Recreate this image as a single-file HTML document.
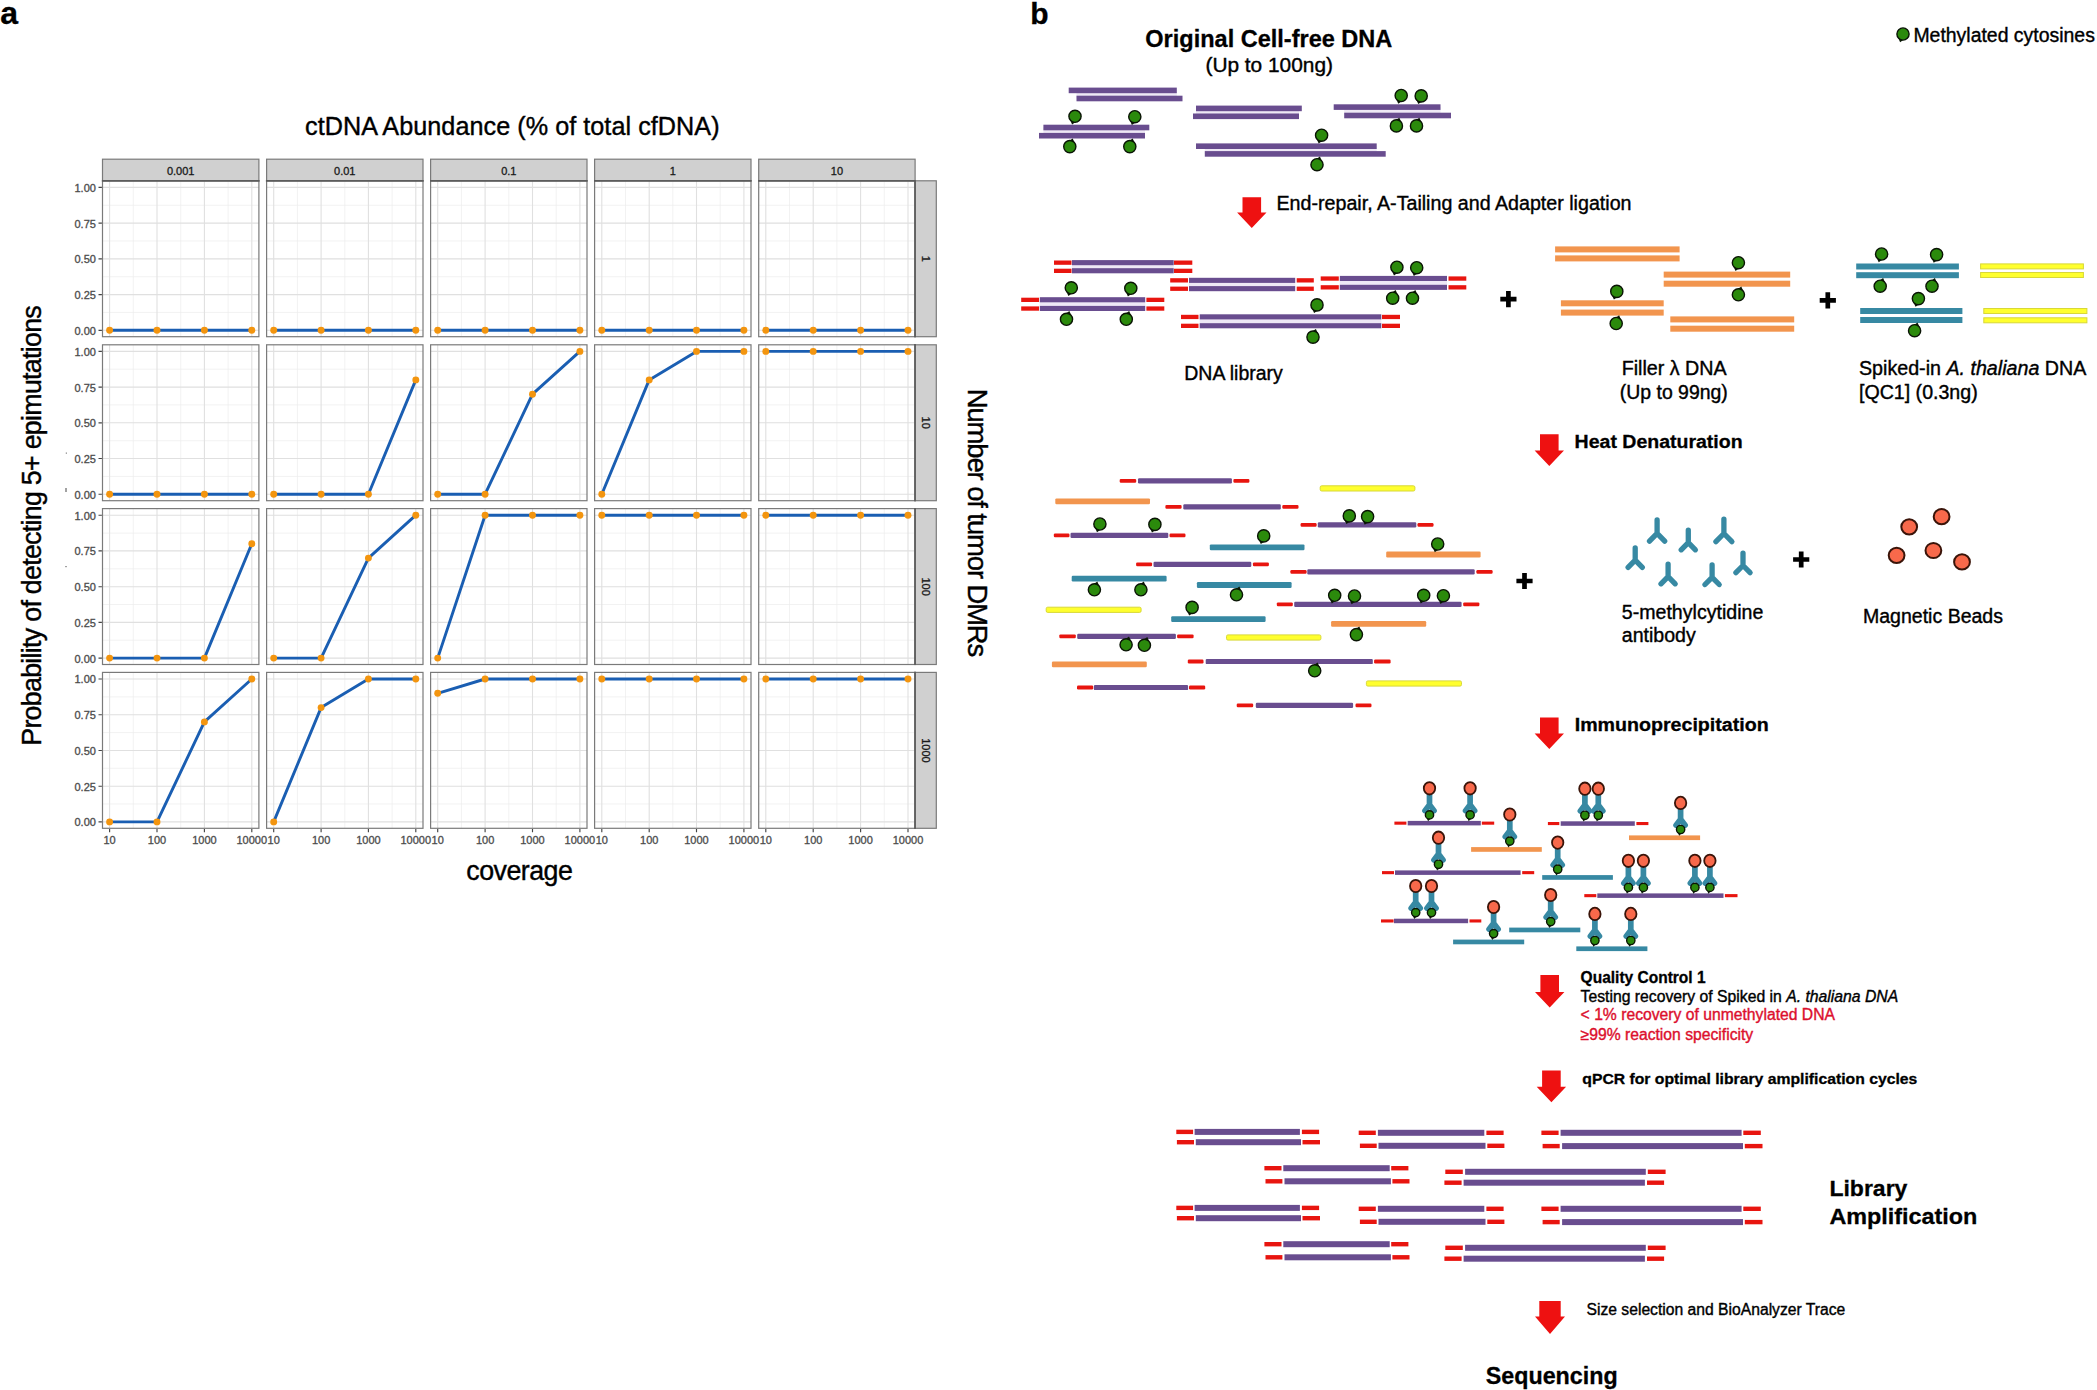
<!DOCTYPE html>
<html lang="en"><head><meta charset="utf-8"><title>cfMeDIP-seq figure</title>
<style>html,body{margin:0;padding:0;background:#fff}svg{display:block}text{font-family:'Liberation Sans', sans-serif}</style>
</head><body>
<svg width="2097" height="1390" viewBox="0 0 2097 1390">
<rect width="2097" height="1390" fill="#fff"/>
<defs>
<g id="mU"><path d="M-5 3.5L-2.9 8.2L0.6 5.8Z" fill="#0a1a05"/><circle r="6.1" fill="#2b8a0c" stroke="#0a1405" stroke-width="1.4"/></g>
<g id="mD"><path d="M5 -3.5L2.9 -8.2L-0.6 -5.8Z" fill="#0a1a05"/><circle r="6.1" fill="#2b8a0c" stroke="#0a1405" stroke-width="1.4"/></g>
<g id="ab"><path d="M0 -28.5V-18.6M-4.5 -12.6L0 -18.6L4.5 -12.6" stroke="#3789a3" stroke-width="5.7" stroke-linecap="round" stroke-linejoin="round" fill="none"/><path d="M-3 -5.5L-1.4 -2L1 -4.6Z" fill="#0a1a05"/><circle cy="-8.3" r="4.15" fill="#2b8a0c" stroke="#0a1405" stroke-width="1.4"/><ellipse cy="-34.9" rx="5.7" ry="6.2" fill="#f8694b" stroke="#3a1409" stroke-width="1.8"/></g>
</defs>
<g id="panelA">
<text x="0.2" y="24.3" font-size="32" font-weight="bold" stroke="#000" stroke-width="0.3">a</text>
<rect x="102.5" y="159.2" width="156.4" height="21.6" fill="#d0d0d0" stroke="#7a7a7a" stroke-width="1.2"/>
<text x="180.7" y="174.5" font-size="11" text-anchor="middle" fill="#1a1a1a" stroke="#1a1a1a" stroke-width="0.32">0.001</text>
<rect x="266.6" y="159.2" width="156.4" height="21.6" fill="#d0d0d0" stroke="#7a7a7a" stroke-width="1.2"/>
<text x="344.8" y="174.5" font-size="11" text-anchor="middle" fill="#1a1a1a" stroke="#1a1a1a" stroke-width="0.32">0.01</text>
<rect x="430.6" y="159.2" width="156.4" height="21.6" fill="#d0d0d0" stroke="#7a7a7a" stroke-width="1.2"/>
<text x="508.8" y="174.5" font-size="11" text-anchor="middle" fill="#1a1a1a" stroke="#1a1a1a" stroke-width="0.32">0.1</text>
<rect x="594.6" y="159.2" width="156.4" height="21.6" fill="#d0d0d0" stroke="#7a7a7a" stroke-width="1.2"/>
<text x="672.9" y="174.5" font-size="11" text-anchor="middle" fill="#1a1a1a" stroke="#1a1a1a" stroke-width="0.32">1</text>
<rect x="758.7" y="159.2" width="156.4" height="21.6" fill="#d0d0d0" stroke="#7a7a7a" stroke-width="1.2"/>
<text x="836.9" y="174.5" font-size="11" text-anchor="middle" fill="#1a1a1a" stroke="#1a1a1a" stroke-width="0.32">10</text>
<rect x="915" y="180.8" width="21.3" height="155.9" fill="#d0d0d0" stroke="#7a7a7a" stroke-width="1.2"/>
<text font-size="11" fill="#1a1a1a" stroke="#1a1a1a" stroke-width="0.32" text-anchor="middle" transform="translate(922 258.8) rotate(90)">1</text>
<rect x="915" y="344.8" width="21.3" height="155.9" fill="#d0d0d0" stroke="#7a7a7a" stroke-width="1.2"/>
<text font-size="11" fill="#1a1a1a" stroke="#1a1a1a" stroke-width="0.32" text-anchor="middle" transform="translate(922 422.7) rotate(90)">10</text>
<rect x="915" y="508.6" width="21.3" height="155.9" fill="#d0d0d0" stroke="#7a7a7a" stroke-width="1.2"/>
<text font-size="11" fill="#1a1a1a" stroke="#1a1a1a" stroke-width="0.32" text-anchor="middle" transform="translate(922 586.6) rotate(90)">100</text>
<rect x="915" y="672.4" width="21.3" height="155.9" fill="#d0d0d0" stroke="#7a7a7a" stroke-width="1.2"/>
<text font-size="11" fill="#1a1a1a" stroke="#1a1a1a" stroke-width="0.32" text-anchor="middle" transform="translate(922 750.4) rotate(90)">1000</text>
<rect x="102.5" y="180.8" width="156.4" height="155.9" fill="#fff"/>
<path d="M133.3 180.8V336.7M180.7 180.8V336.7M228.1 180.8V336.7M102.5 312.4H258.9M102.5 276.7H258.9M102.5 241H258.9M102.5 205.3H258.9" stroke="#ededed" stroke-width="0.7" fill="none"/>
<path d="M109.6 180.8V336.7M157 180.8V336.7M204.4 180.8V336.7M251.8 180.8V336.7M102.5 330.3H258.9M102.5 294.6H258.9M102.5 258.9H258.9M102.5 223.1H258.9M102.5 187.4H258.9" stroke="#e0e0e0" stroke-width="1.1" fill="none"/>
<polyline points="109.6,330.3 157,330.3 204.4,330.3 251.8,330.3" fill="none" stroke="#1a5eb2" stroke-width="2.9" stroke-linejoin="round"/>
<circle cx="109.6" cy="330.3" r="3.45" fill="#f3950f"/>
<circle cx="157" cy="330.3" r="3.45" fill="#f3950f"/>
<circle cx="204.4" cy="330.3" r="3.45" fill="#f3950f"/>
<circle cx="251.8" cy="330.3" r="3.45" fill="#f3950f"/>
<rect x="102.5" y="180.8" width="156.4" height="155.9" fill="none" stroke="#7a7a7a" stroke-width="1.2"/>
<rect x="266.6" y="180.8" width="156.4" height="155.9" fill="#fff"/>
<path d="M297.4 180.8V336.7M344.8 180.8V336.7M392.1 180.8V336.7M266.6 312.4H423M266.6 276.7H423M266.6 241H423M266.6 205.3H423" stroke="#ededed" stroke-width="0.7" fill="none"/>
<path d="M273.7 180.8V336.7M321.1 180.8V336.7M368.4 180.8V336.7M415.8 180.8V336.7M266.6 330.3H423M266.6 294.6H423M266.6 258.9H423M266.6 223.1H423M266.6 187.4H423" stroke="#e0e0e0" stroke-width="1.1" fill="none"/>
<polyline points="273.7,330.3 321.1,330.3 368.4,330.3 415.8,330.3" fill="none" stroke="#1a5eb2" stroke-width="2.9" stroke-linejoin="round"/>
<circle cx="273.7" cy="330.3" r="3.45" fill="#f3950f"/>
<circle cx="321.1" cy="330.3" r="3.45" fill="#f3950f"/>
<circle cx="368.4" cy="330.3" r="3.45" fill="#f3950f"/>
<circle cx="415.8" cy="330.3" r="3.45" fill="#f3950f"/>
<rect x="266.6" y="180.8" width="156.4" height="155.9" fill="none" stroke="#7a7a7a" stroke-width="1.2"/>
<rect x="430.6" y="180.8" width="156.4" height="155.9" fill="#fff"/>
<path d="M461.4 180.8V336.7M508.8 180.8V336.7M556.2 180.8V336.7M430.6 312.4H587M430.6 276.7H587M430.6 241H587M430.6 205.3H587" stroke="#ededed" stroke-width="0.7" fill="none"/>
<path d="M437.7 180.8V336.7M485.1 180.8V336.7M532.5 180.8V336.7M579.9 180.8V336.7M430.6 330.3H587M430.6 294.6H587M430.6 258.9H587M430.6 223.1H587M430.6 187.4H587" stroke="#e0e0e0" stroke-width="1.1" fill="none"/>
<polyline points="437.7,330.3 485.1,330.3 532.5,330.3 579.9,330.3" fill="none" stroke="#1a5eb2" stroke-width="2.9" stroke-linejoin="round"/>
<circle cx="437.7" cy="330.3" r="3.45" fill="#f3950f"/>
<circle cx="485.1" cy="330.3" r="3.45" fill="#f3950f"/>
<circle cx="532.5" cy="330.3" r="3.45" fill="#f3950f"/>
<circle cx="579.9" cy="330.3" r="3.45" fill="#f3950f"/>
<rect x="430.6" y="180.8" width="156.4" height="155.9" fill="none" stroke="#7a7a7a" stroke-width="1.2"/>
<rect x="594.6" y="180.8" width="156.4" height="155.9" fill="#fff"/>
<path d="M625.5 180.8V336.7M672.8 180.8V336.7M720.2 180.8V336.7M594.6 312.4H751M594.6 276.7H751M594.6 241H751M594.6 205.3H751" stroke="#ededed" stroke-width="0.7" fill="none"/>
<path d="M601.8 180.8V336.7M649.2 180.8V336.7M696.5 180.8V336.7M743.9 180.8V336.7M594.6 330.3H751M594.6 294.6H751M594.6 258.9H751M594.6 223.1H751M594.6 187.4H751" stroke="#e0e0e0" stroke-width="1.1" fill="none"/>
<polyline points="601.8,330.3 649.2,330.3 696.5,330.3 743.9,330.3" fill="none" stroke="#1a5eb2" stroke-width="2.9" stroke-linejoin="round"/>
<circle cx="601.8" cy="330.3" r="3.45" fill="#f3950f"/>
<circle cx="649.2" cy="330.3" r="3.45" fill="#f3950f"/>
<circle cx="696.5" cy="330.3" r="3.45" fill="#f3950f"/>
<circle cx="743.9" cy="330.3" r="3.45" fill="#f3950f"/>
<rect x="594.6" y="180.8" width="156.4" height="155.9" fill="none" stroke="#7a7a7a" stroke-width="1.2"/>
<rect x="758.7" y="180.8" width="156.4" height="155.9" fill="#fff"/>
<path d="M789.5 180.8V336.7M836.9 180.8V336.7M884.3 180.8V336.7M758.7 312.4H915.1M758.7 276.7H915.1M758.7 241H915.1M758.7 205.3H915.1" stroke="#ededed" stroke-width="0.7" fill="none"/>
<path d="M765.8 180.8V336.7M813.2 180.8V336.7M860.6 180.8V336.7M908 180.8V336.7M758.7 330.3H915.1M758.7 294.6H915.1M758.7 258.9H915.1M758.7 223.1H915.1M758.7 187.4H915.1" stroke="#e0e0e0" stroke-width="1.1" fill="none"/>
<polyline points="765.8,330.3 813.2,330.3 860.6,330.3 908,330.3" fill="none" stroke="#1a5eb2" stroke-width="2.9" stroke-linejoin="round"/>
<circle cx="765.8" cy="330.3" r="3.45" fill="#f3950f"/>
<circle cx="813.2" cy="330.3" r="3.45" fill="#f3950f"/>
<circle cx="860.6" cy="330.3" r="3.45" fill="#f3950f"/>
<circle cx="908" cy="330.3" r="3.45" fill="#f3950f"/>
<rect x="758.7" y="180.8" width="156.4" height="155.9" fill="none" stroke="#7a7a7a" stroke-width="1.2"/>
<path d="M101.9 330.3h-3.4M101.9 294.6h-3.4M101.9 258.9h-3.4M101.9 223.1h-3.4M101.9 187.4h-3.4" stroke="#444" stroke-width="1.15"/>
<text x="95.9" y="334.7" font-size="11" text-anchor="end" fill="#4d4d4d" stroke="#4d4d4d" stroke-width="0.32">0.00</text>
<text x="95.9" y="299" font-size="11" text-anchor="end" fill="#4d4d4d" stroke="#4d4d4d" stroke-width="0.32">0.25</text>
<text x="95.9" y="263.2" font-size="11" text-anchor="end" fill="#4d4d4d" stroke="#4d4d4d" stroke-width="0.32">0.50</text>
<text x="95.9" y="227.5" font-size="11" text-anchor="end" fill="#4d4d4d" stroke="#4d4d4d" stroke-width="0.32">0.75</text>
<text x="95.9" y="191.8" font-size="11" text-anchor="end" fill="#4d4d4d" stroke="#4d4d4d" stroke-width="0.32">1.00</text>
<rect x="102.5" y="344.8" width="156.4" height="155.9" fill="#fff"/>
<path d="M133.3 344.8V500.6M180.7 344.8V500.6M228.1 344.8V500.6M102.5 476.4H258.9M102.5 440.7H258.9M102.5 404.9H258.9M102.5 369.2H258.9" stroke="#ededed" stroke-width="0.7" fill="none"/>
<path d="M109.6 344.8V500.6M157 344.8V500.6M204.4 344.8V500.6M251.8 344.8V500.6M102.5 494.2H258.9M102.5 458.5H258.9M102.5 422.8H258.9M102.5 387.1H258.9M102.5 351.4H258.9" stroke="#e0e0e0" stroke-width="1.1" fill="none"/>
<polyline points="109.6,494.2 157,494.2 204.4,494.2 251.8,494.2" fill="none" stroke="#1a5eb2" stroke-width="2.9" stroke-linejoin="round"/>
<circle cx="109.6" cy="494.2" r="3.45" fill="#f3950f"/>
<circle cx="157" cy="494.2" r="3.45" fill="#f3950f"/>
<circle cx="204.4" cy="494.2" r="3.45" fill="#f3950f"/>
<circle cx="251.8" cy="494.2" r="3.45" fill="#f3950f"/>
<rect x="102.5" y="344.8" width="156.4" height="155.9" fill="none" stroke="#7a7a7a" stroke-width="1.2"/>
<rect x="266.6" y="344.8" width="156.4" height="155.9" fill="#fff"/>
<path d="M297.4 344.8V500.6M344.8 344.8V500.6M392.1 344.8V500.6M266.6 476.4H423M266.6 440.7H423M266.6 404.9H423M266.6 369.2H423" stroke="#ededed" stroke-width="0.7" fill="none"/>
<path d="M273.7 344.8V500.6M321.1 344.8V500.6M368.4 344.8V500.6M415.8 344.8V500.6M266.6 494.2H423M266.6 458.5H423M266.6 422.8H423M266.6 387.1H423M266.6 351.4H423" stroke="#e0e0e0" stroke-width="1.1" fill="none"/>
<polyline points="273.7,494.2 321.1,494.2 368.4,494.2 415.8,379.9" fill="none" stroke="#1a5eb2" stroke-width="2.9" stroke-linejoin="round"/>
<circle cx="273.7" cy="494.2" r="3.45" fill="#f3950f"/>
<circle cx="321.1" cy="494.2" r="3.45" fill="#f3950f"/>
<circle cx="368.4" cy="494.2" r="3.45" fill="#f3950f"/>
<circle cx="415.8" cy="379.9" r="3.45" fill="#f3950f"/>
<rect x="266.6" y="344.8" width="156.4" height="155.9" fill="none" stroke="#7a7a7a" stroke-width="1.2"/>
<rect x="430.6" y="344.8" width="156.4" height="155.9" fill="#fff"/>
<path d="M461.4 344.8V500.6M508.8 344.8V500.6M556.2 344.8V500.6M430.6 476.4H587M430.6 440.7H587M430.6 404.9H587M430.6 369.2H587" stroke="#ededed" stroke-width="0.7" fill="none"/>
<path d="M437.7 344.8V500.6M485.1 344.8V500.6M532.5 344.8V500.6M579.9 344.8V500.6M430.6 494.2H587M430.6 458.5H587M430.6 422.8H587M430.6 387.1H587M430.6 351.4H587" stroke="#e0e0e0" stroke-width="1.1" fill="none"/>
<polyline points="437.7,494.2 485.1,494.2 532.5,394.2 579.9,351.4" fill="none" stroke="#1a5eb2" stroke-width="2.9" stroke-linejoin="round"/>
<circle cx="437.7" cy="494.2" r="3.45" fill="#f3950f"/>
<circle cx="485.1" cy="494.2" r="3.45" fill="#f3950f"/>
<circle cx="532.5" cy="394.2" r="3.45" fill="#f3950f"/>
<circle cx="579.9" cy="351.4" r="3.45" fill="#f3950f"/>
<rect x="430.6" y="344.8" width="156.4" height="155.9" fill="none" stroke="#7a7a7a" stroke-width="1.2"/>
<rect x="594.6" y="344.8" width="156.4" height="155.9" fill="#fff"/>
<path d="M625.5 344.8V500.6M672.8 344.8V500.6M720.2 344.8V500.6M594.6 476.4H751M594.6 440.7H751M594.6 404.9H751M594.6 369.2H751" stroke="#ededed" stroke-width="0.7" fill="none"/>
<path d="M601.8 344.8V500.6M649.2 344.8V500.6M696.5 344.8V500.6M743.9 344.8V500.6M594.6 494.2H751M594.6 458.5H751M594.6 422.8H751M594.6 387.1H751M594.6 351.4H751" stroke="#e0e0e0" stroke-width="1.1" fill="none"/>
<polyline points="601.8,494.2 649.2,379.9 696.5,351.4 743.9,351.4" fill="none" stroke="#1a5eb2" stroke-width="2.9" stroke-linejoin="round"/>
<circle cx="601.8" cy="494.2" r="3.45" fill="#f3950f"/>
<circle cx="649.2" cy="379.9" r="3.45" fill="#f3950f"/>
<circle cx="696.5" cy="351.4" r="3.45" fill="#f3950f"/>
<circle cx="743.9" cy="351.4" r="3.45" fill="#f3950f"/>
<rect x="594.6" y="344.8" width="156.4" height="155.9" fill="none" stroke="#7a7a7a" stroke-width="1.2"/>
<rect x="758.7" y="344.8" width="156.4" height="155.9" fill="#fff"/>
<path d="M789.5 344.8V500.6M836.9 344.8V500.6M884.3 344.8V500.6M758.7 476.4H915.1M758.7 440.7H915.1M758.7 404.9H915.1M758.7 369.2H915.1" stroke="#ededed" stroke-width="0.7" fill="none"/>
<path d="M765.8 344.8V500.6M813.2 344.8V500.6M860.6 344.8V500.6M908 344.8V500.6M758.7 494.2H915.1M758.7 458.5H915.1M758.7 422.8H915.1M758.7 387.1H915.1M758.7 351.4H915.1" stroke="#e0e0e0" stroke-width="1.1" fill="none"/>
<polyline points="765.8,351.4 813.2,351.4 860.6,351.4 908,351.4" fill="none" stroke="#1a5eb2" stroke-width="2.9" stroke-linejoin="round"/>
<circle cx="765.8" cy="351.4" r="3.45" fill="#f3950f"/>
<circle cx="813.2" cy="351.4" r="3.45" fill="#f3950f"/>
<circle cx="860.6" cy="351.4" r="3.45" fill="#f3950f"/>
<circle cx="908" cy="351.4" r="3.45" fill="#f3950f"/>
<rect x="758.7" y="344.8" width="156.4" height="155.9" fill="none" stroke="#7a7a7a" stroke-width="1.2"/>
<path d="M101.9 494.2h-3.4M101.9 458.5h-3.4M101.9 422.8h-3.4M101.9 387.1h-3.4M101.9 351.4h-3.4" stroke="#444" stroke-width="1.15"/>
<text x="95.9" y="498.6" font-size="11" text-anchor="end" fill="#4d4d4d" stroke="#4d4d4d" stroke-width="0.32">0.00</text>
<text x="95.9" y="462.9" font-size="11" text-anchor="end" fill="#4d4d4d" stroke="#4d4d4d" stroke-width="0.32">0.25</text>
<text x="95.9" y="427.2" font-size="11" text-anchor="end" fill="#4d4d4d" stroke="#4d4d4d" stroke-width="0.32">0.50</text>
<text x="95.9" y="391.5" font-size="11" text-anchor="end" fill="#4d4d4d" stroke="#4d4d4d" stroke-width="0.32">0.75</text>
<text x="95.9" y="355.8" font-size="11" text-anchor="end" fill="#4d4d4d" stroke="#4d4d4d" stroke-width="0.32">1.00</text>
<rect x="102.5" y="508.6" width="156.4" height="155.9" fill="#fff"/>
<path d="M133.3 508.6V664.5M180.7 508.6V664.5M228.1 508.6V664.5M102.5 640.2H258.9M102.5 604.5H258.9M102.5 568.8H258.9M102.5 533.1H258.9" stroke="#ededed" stroke-width="0.7" fill="none"/>
<path d="M109.6 508.6V664.5M157 508.6V664.5M204.4 508.6V664.5M251.8 508.6V664.5M102.5 658.1H258.9M102.5 622.4H258.9M102.5 586.7H258.9M102.5 550.9H258.9M102.5 515.2H258.9" stroke="#e0e0e0" stroke-width="1.1" fill="none"/>
<polyline points="109.6,658.1 157,658.1 204.4,658.1 251.8,543.8" fill="none" stroke="#1a5eb2" stroke-width="2.9" stroke-linejoin="round"/>
<circle cx="109.6" cy="658.1" r="3.45" fill="#f3950f"/>
<circle cx="157" cy="658.1" r="3.45" fill="#f3950f"/>
<circle cx="204.4" cy="658.1" r="3.45" fill="#f3950f"/>
<circle cx="251.8" cy="543.8" r="3.45" fill="#f3950f"/>
<rect x="102.5" y="508.6" width="156.4" height="155.9" fill="none" stroke="#7a7a7a" stroke-width="1.2"/>
<rect x="266.6" y="508.6" width="156.4" height="155.9" fill="#fff"/>
<path d="M297.4 508.6V664.5M344.8 508.6V664.5M392.1 508.6V664.5M266.6 640.2H423M266.6 604.5H423M266.6 568.8H423M266.6 533.1H423" stroke="#ededed" stroke-width="0.7" fill="none"/>
<path d="M273.7 508.6V664.5M321.1 508.6V664.5M368.4 508.6V664.5M415.8 508.6V664.5M266.6 658.1H423M266.6 622.4H423M266.6 586.7H423M266.6 550.9H423M266.6 515.2H423" stroke="#e0e0e0" stroke-width="1.1" fill="none"/>
<polyline points="273.7,658.1 321.1,658.1 368.4,558.1 415.8,515.2" fill="none" stroke="#1a5eb2" stroke-width="2.9" stroke-linejoin="round"/>
<circle cx="273.7" cy="658.1" r="3.45" fill="#f3950f"/>
<circle cx="321.1" cy="658.1" r="3.45" fill="#f3950f"/>
<circle cx="368.4" cy="558.1" r="3.45" fill="#f3950f"/>
<circle cx="415.8" cy="515.2" r="3.45" fill="#f3950f"/>
<rect x="266.6" y="508.6" width="156.4" height="155.9" fill="none" stroke="#7a7a7a" stroke-width="1.2"/>
<rect x="430.6" y="508.6" width="156.4" height="155.9" fill="#fff"/>
<path d="M461.4 508.6V664.5M508.8 508.6V664.5M556.2 508.6V664.5M430.6 640.2H587M430.6 604.5H587M430.6 568.8H587M430.6 533.1H587" stroke="#ededed" stroke-width="0.7" fill="none"/>
<path d="M437.7 508.6V664.5M485.1 508.6V664.5M532.5 508.6V664.5M579.9 508.6V664.5M430.6 658.1H587M430.6 622.4H587M430.6 586.7H587M430.6 550.9H587M430.6 515.2H587" stroke="#e0e0e0" stroke-width="1.1" fill="none"/>
<polyline points="437.7,658.1 485.1,515.2 532.5,515.2 579.9,515.2" fill="none" stroke="#1a5eb2" stroke-width="2.9" stroke-linejoin="round"/>
<circle cx="437.7" cy="658.1" r="3.45" fill="#f3950f"/>
<circle cx="485.1" cy="515.2" r="3.45" fill="#f3950f"/>
<circle cx="532.5" cy="515.2" r="3.45" fill="#f3950f"/>
<circle cx="579.9" cy="515.2" r="3.45" fill="#f3950f"/>
<rect x="430.6" y="508.6" width="156.4" height="155.9" fill="none" stroke="#7a7a7a" stroke-width="1.2"/>
<rect x="594.6" y="508.6" width="156.4" height="155.9" fill="#fff"/>
<path d="M625.5 508.6V664.5M672.8 508.6V664.5M720.2 508.6V664.5M594.6 640.2H751M594.6 604.5H751M594.6 568.8H751M594.6 533.1H751" stroke="#ededed" stroke-width="0.7" fill="none"/>
<path d="M601.8 508.6V664.5M649.2 508.6V664.5M696.5 508.6V664.5M743.9 508.6V664.5M594.6 658.1H751M594.6 622.4H751M594.6 586.7H751M594.6 550.9H751M594.6 515.2H751" stroke="#e0e0e0" stroke-width="1.1" fill="none"/>
<polyline points="601.8,515.2 649.2,515.2 696.5,515.2 743.9,515.2" fill="none" stroke="#1a5eb2" stroke-width="2.9" stroke-linejoin="round"/>
<circle cx="601.8" cy="515.2" r="3.45" fill="#f3950f"/>
<circle cx="649.2" cy="515.2" r="3.45" fill="#f3950f"/>
<circle cx="696.5" cy="515.2" r="3.45" fill="#f3950f"/>
<circle cx="743.9" cy="515.2" r="3.45" fill="#f3950f"/>
<rect x="594.6" y="508.6" width="156.4" height="155.9" fill="none" stroke="#7a7a7a" stroke-width="1.2"/>
<rect x="758.7" y="508.6" width="156.4" height="155.9" fill="#fff"/>
<path d="M789.5 508.6V664.5M836.9 508.6V664.5M884.3 508.6V664.5M758.7 640.2H915.1M758.7 604.5H915.1M758.7 568.8H915.1M758.7 533.1H915.1" stroke="#ededed" stroke-width="0.7" fill="none"/>
<path d="M765.8 508.6V664.5M813.2 508.6V664.5M860.6 508.6V664.5M908 508.6V664.5M758.7 658.1H915.1M758.7 622.4H915.1M758.7 586.7H915.1M758.7 550.9H915.1M758.7 515.2H915.1" stroke="#e0e0e0" stroke-width="1.1" fill="none"/>
<polyline points="765.8,515.2 813.2,515.2 860.6,515.2 908,515.2" fill="none" stroke="#1a5eb2" stroke-width="2.9" stroke-linejoin="round"/>
<circle cx="765.8" cy="515.2" r="3.45" fill="#f3950f"/>
<circle cx="813.2" cy="515.2" r="3.45" fill="#f3950f"/>
<circle cx="860.6" cy="515.2" r="3.45" fill="#f3950f"/>
<circle cx="908" cy="515.2" r="3.45" fill="#f3950f"/>
<rect x="758.7" y="508.6" width="156.4" height="155.9" fill="none" stroke="#7a7a7a" stroke-width="1.2"/>
<path d="M101.9 658.1h-3.4M101.9 622.4h-3.4M101.9 586.7h-3.4M101.9 550.9h-3.4M101.9 515.2h-3.4" stroke="#444" stroke-width="1.15"/>
<text x="95.9" y="662.5" font-size="11" text-anchor="end" fill="#4d4d4d" stroke="#4d4d4d" stroke-width="0.32">0.00</text>
<text x="95.9" y="626.8" font-size="11" text-anchor="end" fill="#4d4d4d" stroke="#4d4d4d" stroke-width="0.32">0.25</text>
<text x="95.9" y="591.1" font-size="11" text-anchor="end" fill="#4d4d4d" stroke="#4d4d4d" stroke-width="0.32">0.50</text>
<text x="95.9" y="555.3" font-size="11" text-anchor="end" fill="#4d4d4d" stroke="#4d4d4d" stroke-width="0.32">0.75</text>
<text x="95.9" y="519.6" font-size="11" text-anchor="end" fill="#4d4d4d" stroke="#4d4d4d" stroke-width="0.32">1.00</text>
<rect x="102.5" y="672.4" width="156.4" height="155.9" fill="#fff"/>
<path d="M133.3 672.4V828.3M180.7 672.4V828.3M228.1 672.4V828.3M102.5 804H258.9M102.5 768.3H258.9M102.5 732.6H258.9M102.5 696.9H258.9" stroke="#ededed" stroke-width="0.7" fill="none"/>
<path d="M109.6 672.4V828.3M157 672.4V828.3M204.4 672.4V828.3M251.8 672.4V828.3M102.5 821.9H258.9M102.5 786.2H258.9M102.5 750.5H258.9M102.5 714.7H258.9M102.5 679H258.9" stroke="#e0e0e0" stroke-width="1.1" fill="none"/>
<polyline points="109.6,821.9 157,821.9 204.4,721.9 251.8,679" fill="none" stroke="#1a5eb2" stroke-width="2.9" stroke-linejoin="round"/>
<circle cx="109.6" cy="821.9" r="3.45" fill="#f3950f"/>
<circle cx="157" cy="821.9" r="3.45" fill="#f3950f"/>
<circle cx="204.4" cy="721.9" r="3.45" fill="#f3950f"/>
<circle cx="251.8" cy="679" r="3.45" fill="#f3950f"/>
<rect x="102.5" y="672.4" width="156.4" height="155.9" fill="none" stroke="#7a7a7a" stroke-width="1.2"/>
<path d="M109.6 828.9v3.4M157 828.9v3.4M204.4 828.9v3.4M251.8 828.9v3.4" stroke="#444" stroke-width="1.15"/>
<text x="109.6" y="843.9" font-size="11" text-anchor="middle" fill="#4d4d4d" stroke="#4d4d4d" stroke-width="0.32">10</text>
<text x="157" y="843.9" font-size="11" text-anchor="middle" fill="#4d4d4d" stroke="#4d4d4d" stroke-width="0.32">100</text>
<text x="204.4" y="843.9" font-size="11" text-anchor="middle" fill="#4d4d4d" stroke="#4d4d4d" stroke-width="0.32">1000</text>
<text x="251.8" y="843.9" font-size="11" text-anchor="middle" fill="#4d4d4d" stroke="#4d4d4d" stroke-width="0.32">10000</text>
<rect x="266.6" y="672.4" width="156.4" height="155.9" fill="#fff"/>
<path d="M297.4 672.4V828.3M344.8 672.4V828.3M392.1 672.4V828.3M266.6 804H423M266.6 768.3H423M266.6 732.6H423M266.6 696.9H423" stroke="#ededed" stroke-width="0.7" fill="none"/>
<path d="M273.7 672.4V828.3M321.1 672.4V828.3M368.4 672.4V828.3M415.8 672.4V828.3M266.6 821.9H423M266.6 786.2H423M266.6 750.5H423M266.6 714.7H423M266.6 679H423" stroke="#e0e0e0" stroke-width="1.1" fill="none"/>
<polyline points="273.7,821.9 321.1,707.6 368.4,679 415.8,679" fill="none" stroke="#1a5eb2" stroke-width="2.9" stroke-linejoin="round"/>
<circle cx="273.7" cy="821.9" r="3.45" fill="#f3950f"/>
<circle cx="321.1" cy="707.6" r="3.45" fill="#f3950f"/>
<circle cx="368.4" cy="679" r="3.45" fill="#f3950f"/>
<circle cx="415.8" cy="679" r="3.45" fill="#f3950f"/>
<rect x="266.6" y="672.4" width="156.4" height="155.9" fill="none" stroke="#7a7a7a" stroke-width="1.2"/>
<path d="M273.7 828.9v3.4M321.1 828.9v3.4M368.4 828.9v3.4M415.8 828.9v3.4" stroke="#444" stroke-width="1.15"/>
<text x="273.7" y="843.9" font-size="11" text-anchor="middle" fill="#4d4d4d" stroke="#4d4d4d" stroke-width="0.32">10</text>
<text x="321.1" y="843.9" font-size="11" text-anchor="middle" fill="#4d4d4d" stroke="#4d4d4d" stroke-width="0.32">100</text>
<text x="368.4" y="843.9" font-size="11" text-anchor="middle" fill="#4d4d4d" stroke="#4d4d4d" stroke-width="0.32">1000</text>
<text x="415.8" y="843.9" font-size="11" text-anchor="middle" fill="#4d4d4d" stroke="#4d4d4d" stroke-width="0.32">10000</text>
<rect x="430.6" y="672.4" width="156.4" height="155.9" fill="#fff"/>
<path d="M461.4 672.4V828.3M508.8 672.4V828.3M556.2 672.4V828.3M430.6 804H587M430.6 768.3H587M430.6 732.6H587M430.6 696.9H587" stroke="#ededed" stroke-width="0.7" fill="none"/>
<path d="M437.7 672.4V828.3M485.1 672.4V828.3M532.5 672.4V828.3M579.9 672.4V828.3M430.6 821.9H587M430.6 786.2H587M430.6 750.5H587M430.6 714.7H587M430.6 679H587" stroke="#e0e0e0" stroke-width="1.1" fill="none"/>
<polyline points="437.7,693.3 485.1,679 532.5,679 579.9,679" fill="none" stroke="#1a5eb2" stroke-width="2.9" stroke-linejoin="round"/>
<circle cx="437.7" cy="693.3" r="3.45" fill="#f3950f"/>
<circle cx="485.1" cy="679" r="3.45" fill="#f3950f"/>
<circle cx="532.5" cy="679" r="3.45" fill="#f3950f"/>
<circle cx="579.9" cy="679" r="3.45" fill="#f3950f"/>
<rect x="430.6" y="672.4" width="156.4" height="155.9" fill="none" stroke="#7a7a7a" stroke-width="1.2"/>
<path d="M437.7 828.9v3.4M485.1 828.9v3.4M532.5 828.9v3.4M579.9 828.9v3.4" stroke="#444" stroke-width="1.15"/>
<text x="437.7" y="843.9" font-size="11" text-anchor="middle" fill="#4d4d4d" stroke="#4d4d4d" stroke-width="0.32">10</text>
<text x="485.1" y="843.9" font-size="11" text-anchor="middle" fill="#4d4d4d" stroke="#4d4d4d" stroke-width="0.32">100</text>
<text x="532.5" y="843.9" font-size="11" text-anchor="middle" fill="#4d4d4d" stroke="#4d4d4d" stroke-width="0.32">1000</text>
<text x="579.9" y="843.9" font-size="11" text-anchor="middle" fill="#4d4d4d" stroke="#4d4d4d" stroke-width="0.32">10000</text>
<rect x="594.6" y="672.4" width="156.4" height="155.9" fill="#fff"/>
<path d="M625.5 672.4V828.3M672.8 672.4V828.3M720.2 672.4V828.3M594.6 804H751M594.6 768.3H751M594.6 732.6H751M594.6 696.9H751" stroke="#ededed" stroke-width="0.7" fill="none"/>
<path d="M601.8 672.4V828.3M649.2 672.4V828.3M696.5 672.4V828.3M743.9 672.4V828.3M594.6 821.9H751M594.6 786.2H751M594.6 750.5H751M594.6 714.7H751M594.6 679H751" stroke="#e0e0e0" stroke-width="1.1" fill="none"/>
<polyline points="601.8,679 649.2,679 696.5,679 743.9,679" fill="none" stroke="#1a5eb2" stroke-width="2.9" stroke-linejoin="round"/>
<circle cx="601.8" cy="679" r="3.45" fill="#f3950f"/>
<circle cx="649.2" cy="679" r="3.45" fill="#f3950f"/>
<circle cx="696.5" cy="679" r="3.45" fill="#f3950f"/>
<circle cx="743.9" cy="679" r="3.45" fill="#f3950f"/>
<rect x="594.6" y="672.4" width="156.4" height="155.9" fill="none" stroke="#7a7a7a" stroke-width="1.2"/>
<path d="M601.8 828.9v3.4M649.2 828.9v3.4M696.5 828.9v3.4M743.9 828.9v3.4" stroke="#444" stroke-width="1.15"/>
<text x="601.8" y="843.9" font-size="11" text-anchor="middle" fill="#4d4d4d" stroke="#4d4d4d" stroke-width="0.32">10</text>
<text x="649.2" y="843.9" font-size="11" text-anchor="middle" fill="#4d4d4d" stroke="#4d4d4d" stroke-width="0.32">100</text>
<text x="696.5" y="843.9" font-size="11" text-anchor="middle" fill="#4d4d4d" stroke="#4d4d4d" stroke-width="0.32">1000</text>
<text x="743.9" y="843.9" font-size="11" text-anchor="middle" fill="#4d4d4d" stroke="#4d4d4d" stroke-width="0.32">10000</text>
<rect x="758.7" y="672.4" width="156.4" height="155.9" fill="#fff"/>
<path d="M789.5 672.4V828.3M836.9 672.4V828.3M884.3 672.4V828.3M758.7 804H915.1M758.7 768.3H915.1M758.7 732.6H915.1M758.7 696.9H915.1" stroke="#ededed" stroke-width="0.7" fill="none"/>
<path d="M765.8 672.4V828.3M813.2 672.4V828.3M860.6 672.4V828.3M908 672.4V828.3M758.7 821.9H915.1M758.7 786.2H915.1M758.7 750.5H915.1M758.7 714.7H915.1M758.7 679H915.1" stroke="#e0e0e0" stroke-width="1.1" fill="none"/>
<polyline points="765.8,679 813.2,679 860.6,679 908,679" fill="none" stroke="#1a5eb2" stroke-width="2.9" stroke-linejoin="round"/>
<circle cx="765.8" cy="679" r="3.45" fill="#f3950f"/>
<circle cx="813.2" cy="679" r="3.45" fill="#f3950f"/>
<circle cx="860.6" cy="679" r="3.45" fill="#f3950f"/>
<circle cx="908" cy="679" r="3.45" fill="#f3950f"/>
<rect x="758.7" y="672.4" width="156.4" height="155.9" fill="none" stroke="#7a7a7a" stroke-width="1.2"/>
<path d="M765.8 828.9v3.4M813.2 828.9v3.4M860.6 828.9v3.4M908 828.9v3.4" stroke="#444" stroke-width="1.15"/>
<text x="765.8" y="843.9" font-size="11" text-anchor="middle" fill="#4d4d4d" stroke="#4d4d4d" stroke-width="0.32">10</text>
<text x="813.2" y="843.9" font-size="11" text-anchor="middle" fill="#4d4d4d" stroke="#4d4d4d" stroke-width="0.32">100</text>
<text x="860.6" y="843.9" font-size="11" text-anchor="middle" fill="#4d4d4d" stroke="#4d4d4d" stroke-width="0.32">1000</text>
<text x="908" y="843.9" font-size="11" text-anchor="middle" fill="#4d4d4d" stroke="#4d4d4d" stroke-width="0.32">10000</text>
<path d="M101.9 821.9h-3.4M101.9 786.2h-3.4M101.9 750.5h-3.4M101.9 714.7h-3.4M101.9 679h-3.4" stroke="#444" stroke-width="1.15"/>
<text x="95.9" y="826.3" font-size="11" text-anchor="end" fill="#4d4d4d" stroke="#4d4d4d" stroke-width="0.32">0.00</text>
<text x="95.9" y="790.6" font-size="11" text-anchor="end" fill="#4d4d4d" stroke="#4d4d4d" stroke-width="0.32">0.25</text>
<text x="95.9" y="754.9" font-size="11" text-anchor="end" fill="#4d4d4d" stroke="#4d4d4d" stroke-width="0.32">0.50</text>
<text x="95.9" y="719.1" font-size="11" text-anchor="end" fill="#4d4d4d" stroke="#4d4d4d" stroke-width="0.32">0.75</text>
<text x="95.9" y="683.4" font-size="11" text-anchor="end" fill="#4d4d4d" stroke="#4d4d4d" stroke-width="0.32">1.00</text>
<path d="M101.9 180.8H259.5M265.9 180.8H423.6M430 180.8H587.6M594 180.8H751.6M758.1 180.8H915.7M915 180.2V337.3M915 344.1V501.2M915 508V665.1M915 671.8V828.9" stroke="#5c5c5c" stroke-width="1.7" fill="none"/>
<text x="512.3" y="134.6" font-size="25.2" text-anchor="middle" stroke="#000" stroke-width="0.38" textLength="414.5" lengthAdjust="spacing">ctDNA Abundance (% of total cfDNA)</text>
<text x="519.6" y="879.7" font-size="26.8" text-anchor="middle" stroke="#000" stroke-width="0.38" textLength="106.5" lengthAdjust="spacing">coverage</text>
<text font-size="26.8" stroke="#000" stroke-width="0.4" text-anchor="middle" textLength="440.5" lengthAdjust="spacing" transform="translate(41.4 525.5) rotate(-90)">Probability of detecting 5+ epimutations</text>
<text font-size="27.4" stroke="#000" stroke-width="0.4" text-anchor="middle" textLength="268.5" lengthAdjust="spacing" transform="translate(967.6 523) rotate(90)">Number of tumor DMRs</text>
<path d="M66.3 452.6v1M66 488v4M66 566v1.2" stroke="#444" stroke-width="1"/>
</g>
<g id="panelB">
<text x="1030.3" y="23.8" font-size="30" font-weight="bold" stroke="#000" stroke-width="0.3">b</text>
<text x="1268.8" y="46.5" font-size="24" font-weight="bold" text-anchor="middle" stroke="#000" stroke-width="0.3" textLength="247" lengthAdjust="spacingAndGlyphs">Original Cell-free DNA</text>
<text x="1269.2" y="71.5" font-size="20" text-anchor="middle" stroke="#000" stroke-width="0.38" textLength="127.5" lengthAdjust="spacingAndGlyphs">(Up to 100ng)</text>
<use href="#mU" x="1903" y="34"/>
<text x="1913.4" y="41.7" font-size="20" stroke="#000" stroke-width="0.38" textLength="181.5" lengthAdjust="spacingAndGlyphs">Methylated cytosines</text>
<rect x="1076.5" y="90.4" width="100.3" height="8.1" fill="#eee8f5"/>
<rect x="1068.7" y="87.6" width="108.1" height="5.6" fill="#694d8f"/>
<rect x="1076.5" y="95.7" width="106" height="5.6" fill="#694d8f"/>
<rect x="1196" y="108.4" width="103" height="7.9" fill="#eee8f5"/>
<rect x="1196" y="105.6" width="105.8" height="5.6" fill="#694d8f"/>
<rect x="1193" y="113.5" width="106" height="5.6" fill="#694d8f"/>
<rect x="1344.2" y="107.1" width="96.3" height="8.4" fill="#eee8f5"/>
<rect x="1333.7" y="104.3" width="106.8" height="5.6" fill="#694d8f"/>
<rect x="1344.2" y="112.7" width="106.8" height="5.6" fill="#694d8f"/>
<rect x="1043.4" y="127.5" width="101.6" height="8.2" fill="#eee8f5"/>
<rect x="1043.4" y="124.7" width="105.9" height="5.6" fill="#694d8f"/>
<rect x="1039" y="132.9" width="106" height="5.6" fill="#694d8f"/>
<rect x="1204.8" y="146.2" width="171.9" height="7.7" fill="#eee8f5"/>
<rect x="1196" y="143.4" width="180.7" height="5.6" fill="#694d8f"/>
<rect x="1204.8" y="151.1" width="180.9" height="5.6" fill="#694d8f"/>
<use href="#mU" x="1075" y="116.3"/>
<use href="#mU" x="1134.8" y="116.7"/>
<use href="#mD" x="1069.8" y="146.6"/>
<use href="#mD" x="1129.8" y="146.6"/>
<use href="#mU" x="1401.2" y="95.5"/>
<use href="#mU" x="1421.2" y="95.9"/>
<use href="#mD" x="1396.4" y="125.9"/>
<use href="#mD" x="1416.5" y="125.9"/>
<use href="#mU" x="1321.6" y="135.2"/>
<use href="#mD" x="1317" y="164.7"/>
<path d="M1242.5 197.2H1261.1V212.4H1266.5L1251.8 227.9L1237.1 212.4H1242.5Z" fill="#ee1111"/>
<text x="1276.5" y="209.8" font-size="19.4" stroke="#000" stroke-width="0.38" textLength="355" lengthAdjust="spacingAndGlyphs">End-repair, A-Tailing and Adapter ligation</text>
<rect x="1072" y="262.6" width="101.7" height="8.2" fill="#eee8f5"/>
<rect x="1072" y="260.1" width="101.7" height="5.1" fill="#694d8f"/>
<rect x="1072" y="268.2" width="101.7" height="5.1" fill="#694d8f"/>
<rect x="1054" y="260.5" width="17.5" height="4.3" fill="#e8150f"/>
<rect x="1054" y="268.7" width="17.5" height="4.3" fill="#e8150f"/>
<rect x="1174" y="260.5" width="18.3" height="4.3" fill="#e8150f"/>
<rect x="1174" y="268.7" width="18.3" height="4.3" fill="#e8150f"/>
<rect x="1189" y="280.3" width="106.2" height="8.4" fill="#eee8f5"/>
<rect x="1189" y="277.8" width="106.2" height="5.1" fill="#694d8f"/>
<rect x="1189" y="286.1" width="106.2" height="5.1" fill="#694d8f"/>
<rect x="1170.2" y="278.2" width="17.8" height="4.3" fill="#e8150f"/>
<rect x="1170.2" y="286.6" width="17.8" height="4.3" fill="#e8150f"/>
<rect x="1296.7" y="278.2" width="17.1" height="4.3" fill="#e8150f"/>
<rect x="1296.7" y="286.6" width="17.1" height="4.3" fill="#e8150f"/>
<rect x="1339.8" y="278.5" width="107.2" height="8.9" fill="#eee8f5"/>
<rect x="1339.8" y="275.9" width="107.2" height="5.1" fill="#694d8f"/>
<rect x="1339.8" y="284.8" width="107.2" height="5.1" fill="#694d8f"/>
<rect x="1320.7" y="276.4" width="18.1" height="4.3" fill="#e8150f"/>
<rect x="1320.7" y="285.2" width="18.1" height="4.3" fill="#e8150f"/>
<rect x="1448.5" y="276.4" width="17.8" height="4.3" fill="#e8150f"/>
<rect x="1448.5" y="285.2" width="17.8" height="4.3" fill="#e8150f"/>
<rect x="1039.8" y="299.8" width="105.4" height="8.7" fill="#eee8f5"/>
<rect x="1039.8" y="297.2" width="105.4" height="5.1" fill="#694d8f"/>
<rect x="1039.8" y="305.9" width="105.4" height="5.1" fill="#694d8f"/>
<rect x="1021.2" y="297.7" width="17.8" height="4.3" fill="#e8150f"/>
<rect x="1021.2" y="306.4" width="17.8" height="4.3" fill="#e8150f"/>
<rect x="1146.4" y="297.7" width="17.9" height="4.3" fill="#e8150f"/>
<rect x="1146.4" y="306.4" width="17.9" height="4.3" fill="#e8150f"/>
<rect x="1199.7" y="316.9" width="181.6" height="8.9" fill="#eee8f5"/>
<rect x="1199.7" y="314.3" width="181.6" height="5.1" fill="#694d8f"/>
<rect x="1199.7" y="323.2" width="181.6" height="5.1" fill="#694d8f"/>
<rect x="1181" y="314.8" width="17.5" height="4.3" fill="#e8150f"/>
<rect x="1181" y="323.7" width="17.5" height="4.3" fill="#e8150f"/>
<rect x="1382" y="314.8" width="18" height="4.3" fill="#e8150f"/>
<rect x="1382" y="323.7" width="18" height="4.3" fill="#e8150f"/>
<use href="#mU" x="1071.3" y="287.8"/>
<use href="#mU" x="1130.8" y="288.3"/>
<use href="#mD" x="1066.5" y="319.3"/>
<use href="#mD" x="1126.3" y="319.3"/>
<use href="#mU" x="1396.9" y="267.2"/>
<use href="#mU" x="1416.7" y="267.7"/>
<use href="#mD" x="1392.7" y="298.2"/>
<use href="#mD" x="1412.5" y="298.2"/>
<use href="#mU" x="1317" y="304.9"/>
<use href="#mD" x="1313" y="337.1"/>
<path d="M1500.3 299.2h16.2M1508.4 291.1v16.2" stroke="#000" stroke-width="4.7" fill="none"/>
<text x="1184.3" y="380" font-size="19.4" stroke="#000" stroke-width="0.38" textLength="98.5" lengthAdjust="spacingAndGlyphs">DNA library</text>
<rect x="1555.1" y="246.4" width="124.5" height="6" fill="#f2954e"/>
<rect x="1555.1" y="255.4" width="124.5" height="6" fill="#f2954e"/>
<rect x="1663.7" y="271.6" width="126.5" height="6" fill="#f2954e"/>
<rect x="1663.7" y="280.7" width="126.5" height="6" fill="#f2954e"/>
<rect x="1560.9" y="300.3" width="102.8" height="6" fill="#f2954e"/>
<rect x="1560.9" y="309.6" width="102.8" height="6" fill="#f2954e"/>
<rect x="1670.3" y="316.4" width="123.9" height="6" fill="#f2954e"/>
<rect x="1670.3" y="325.7" width="123.9" height="6" fill="#f2954e"/>
<use href="#mU" x="1738.4" y="262.7"/>
<use href="#mD" x="1738.4" y="294.8"/>
<use href="#mU" x="1616.8" y="291.4"/>
<use href="#mD" x="1616.2" y="323.5"/>
<text x="1674.2" y="374.7" font-size="19.4" text-anchor="middle" stroke="#000" stroke-width="0.38" textLength="105" lengthAdjust="spacingAndGlyphs">Filler λ DNA</text>
<text x="1673.8" y="398.8" font-size="19.4" text-anchor="middle" stroke="#000" stroke-width="0.38" textLength="108" lengthAdjust="spacingAndGlyphs">(Up to 99ng)</text>
<path d="M1819.7 300.3h16.2M1827.8 292.2v16.2" stroke="#000" stroke-width="4.7" fill="none"/>
<rect x="1856.2" y="263.5" width="102.7" height="6" fill="#3789a3"/>
<rect x="1856.2" y="272.2" width="102.7" height="6" fill="#3789a3"/>
<rect x="1860.2" y="308" width="102.2" height="6" fill="#3789a3"/>
<rect x="1860.2" y="317" width="102.2" height="6" fill="#3789a3"/>
<use href="#mU" x="1881.6" y="254"/>
<use href="#mU" x="1936.6" y="254.6"/>
<use href="#mD" x="1880.2" y="286.2"/>
<use href="#mD" x="1932" y="286.2"/>
<use href="#mU" x="1918.4" y="298.6"/>
<use href="#mD" x="1914.6" y="330.7"/>
<rect x="1980.6" y="263.9" width="102.8" height="5" fill="#ffff2e" stroke="#d8d838" stroke-width="1"/>
<rect x="1980.6" y="272.5" width="102.8" height="5" fill="#ffff2e" stroke="#d8d838" stroke-width="1"/>
<rect x="1983.8" y="308.5" width="103.1" height="5" fill="#ffff2e" stroke="#d8d838" stroke-width="1"/>
<rect x="1983.8" y="317.8" width="103.1" height="5" fill="#ffff2e" stroke="#d8d838" stroke-width="1"/>
<text x="1859" y="374.7" font-size="19.4" stroke="#000" stroke-width="0.38" textLength="227.3" lengthAdjust="spacingAndGlyphs">Spiked-in <tspan font-style="italic">A. thaliana</tspan> DNA</text>
<text x="1859" y="398.8" font-size="19.4" stroke="#000" stroke-width="0.38" textLength="118.7" lengthAdjust="spacingAndGlyphs">[QC1] (0.3ng)</text>
<path d="M1540 434.2H1558.6V450.4H1564L1549.3 465.9L1534.6 450.4H1540Z" fill="#ee1111"/>
<text x="1574.6" y="447.6" font-size="18.8" font-weight="bold" stroke="#000" stroke-width="0.3" textLength="168" lengthAdjust="spacingAndGlyphs">Heat Denaturation</text>
<rect x="1138" y="478.2" width="93.9" height="5.2" fill="#694d8f" rx="1.2"/>
<rect x="1119.7" y="478.9" width="16.5" height="3.8" fill="#e8150f" rx="1.2"/>
<rect x="1233.4" y="478.9" width="16" height="3.8" fill="#e8150f" rx="1.2"/>
<rect x="1183.3" y="504.2" width="97.5" height="5.2" fill="#694d8f" rx="1.2"/>
<rect x="1165.4" y="504.9" width="16.2" height="3.8" fill="#e8150f" rx="1.2"/>
<rect x="1282.3" y="504.9" width="16.2" height="3.8" fill="#e8150f" rx="1.2"/>
<rect x="1317.8" y="522.3" width="98.5" height="5.2" fill="#694d8f" rx="1.2"/>
<rect x="1300.6" y="523" width="16" height="3.8" fill="#e8150f" rx="1.2"/>
<rect x="1417.5" y="523" width="16" height="3.8" fill="#e8150f" rx="1.2"/>
<rect x="1070.5" y="532.8" width="97.8" height="5.2" fill="#694d8f" rx="1.2"/>
<rect x="1053.8" y="533.5" width="15.7" height="3.8" fill="#e8150f" rx="1.2"/>
<rect x="1169.5" y="533.5" width="16" height="3.8" fill="#e8150f" rx="1.2"/>
<rect x="1153.5" y="561.7" width="97.8" height="5.2" fill="#694d8f" rx="1.2"/>
<rect x="1136.1" y="562.4" width="16" height="3.8" fill="#e8150f" rx="1.2"/>
<rect x="1252.9" y="562.4" width="16" height="3.8" fill="#e8150f" rx="1.2"/>
<rect x="1307.3" y="569.3" width="167.4" height="5.2" fill="#694d8f" rx="1.2"/>
<rect x="1290.4" y="570" width="16.2" height="3.8" fill="#e8150f" rx="1.2"/>
<rect x="1476.4" y="570" width="16.2" height="3.8" fill="#e8150f" rx="1.2"/>
<rect x="1294.2" y="601.7" width="167.4" height="5.2" fill="#694d8f" rx="1.2"/>
<rect x="1276.8" y="602.4" width="16" height="3.8" fill="#e8150f" rx="1.2"/>
<rect x="1463.2" y="602.4" width="16.2" height="3.8" fill="#e8150f" rx="1.2"/>
<rect x="1077.2" y="633.7" width="98.7" height="5.2" fill="#694d8f" rx="1.2"/>
<rect x="1059.3" y="634.4" width="16.5" height="3.8" fill="#e8150f" rx="1.2"/>
<rect x="1177.1" y="634.4" width="16.5" height="3.8" fill="#e8150f" rx="1.2"/>
<rect x="1205.7" y="658.9" width="167.1" height="5.2" fill="#694d8f" rx="1.2"/>
<rect x="1187.8" y="659.6" width="15.7" height="3.8" fill="#e8150f" rx="1.2"/>
<rect x="1374.1" y="659.6" width="16.5" height="3.8" fill="#e8150f" rx="1.2"/>
<rect x="1093.9" y="684.9" width="94.2" height="5.2" fill="#694d8f" rx="1.2"/>
<rect x="1077" y="685.6" width="16.2" height="3.8" fill="#e8150f" rx="1.2"/>
<rect x="1189" y="685.6" width="16.2" height="3.8" fill="#e8150f" rx="1.2"/>
<rect x="1255.8" y="702.8" width="97.3" height="5.2" fill="#694d8f" rx="1.2"/>
<rect x="1236.7" y="703.5" width="16.5" height="3.8" fill="#e8150f" rx="1.2"/>
<rect x="1355.5" y="703.5" width="16" height="3.8" fill="#e8150f" rx="1.2"/>
<rect x="1055.3" y="498.4" width="94.7" height="5.8" fill="#f2954e" rx="1.2"/>
<rect x="1386.2" y="551.6" width="94.4" height="5.8" fill="#f2954e" rx="1.2"/>
<rect x="1331.1" y="621" width="95.1" height="5.8" fill="#f2954e" rx="1.2"/>
<rect x="1051.9" y="661.5" width="94.9" height="5.8" fill="#f2954e" rx="1.2"/>
<rect x="1209.8" y="544.4" width="94.7" height="5.8" fill="#3789a3" rx="1.2"/>
<rect x="1071.7" y="575.7" width="94.9" height="5.8" fill="#3789a3" rx="1.2"/>
<rect x="1196.9" y="582.1" width="94.7" height="5.8" fill="#3789a3" rx="1.2"/>
<rect x="1171.2" y="616.2" width="94.4" height="5.8" fill="#3789a3" rx="1.2"/>
<rect x="1320.2" y="485.8" width="94.7" height="5.2" fill="#ffff2e" rx="1.5" stroke="#d8d838" stroke-width="1"/>
<rect x="1046.2" y="607.2" width="94.9" height="5.2" fill="#ffff2e" rx="1.5" stroke="#d8d838" stroke-width="1"/>
<rect x="1226.5" y="634.9" width="94.4" height="5.2" fill="#ffff2e" rx="1.5" stroke="#d8d838" stroke-width="1"/>
<rect x="1366.4" y="680.9" width="95.1" height="5.2" fill="#ffff2e" rx="1.5" stroke="#d8d838" stroke-width="1"/>
<use href="#mU" x="1349.3" y="515.9"/>
<use href="#mU" x="1367.6" y="516.6"/>
<use href="#mU" x="1099.9" y="524"/>
<use href="#mU" x="1154.9" y="524.4"/>
<use href="#mU" x="1334.7" y="595.3"/>
<use href="#mU" x="1354.5" y="596"/>
<use href="#mU" x="1423.7" y="595.3"/>
<use href="#mU" x="1443.4" y="595.7"/>
<use href="#mU" x="1437.7" y="544"/>
<use href="#mU" x="1263.7" y="535.9"/>
<use href="#mU" x="1192.1" y="607.4"/>
<use href="#mD" x="1126.1" y="644.8"/>
<use href="#mD" x="1144.4" y="645.3"/>
<use href="#mD" x="1314.7" y="670.8"/>
<use href="#mD" x="1356.4" y="634.6"/>
<use href="#mD" x="1094.4" y="589.8"/>
<use href="#mD" x="1140.9" y="589.8"/>
<use href="#mD" x="1236.5" y="594.8"/>
<path d="M1516.4 581h16.2M1524.5 572.9v16.2" stroke="#000" stroke-width="4.7" fill="none"/>
<path d="M1657.1 519.9V533.3M1649.5 541.1L1657.1 533.3L1664.7 541.1" stroke="#3789a3" stroke-width="5.3" stroke-linecap="round" stroke-linejoin="round" fill="none"/>
<path d="M1688.3 530.2V542.6M1681.2 549.8L1688.3 542.6L1695.4 549.8" stroke="#3789a3" stroke-width="5.3" stroke-linecap="round" stroke-linejoin="round" fill="none"/>
<path d="M1723.9 519.1V533.5M1715.9 541.6L1723.9 533.5L1731.9 541.6" stroke="#3789a3" stroke-width="5.3" stroke-linecap="round" stroke-linejoin="round" fill="none"/>
<path d="M1635.2 547.9V560.2M1628.1 567.4L1635.2 560.2L1642.3 567.4" stroke="#3789a3" stroke-width="5.3" stroke-linecap="round" stroke-linejoin="round" fill="none"/>
<path d="M1668.1 564.2V576.6M1661 583.8L1668.1 576.6L1675.2 583.8" stroke="#3789a3" stroke-width="5.3" stroke-linecap="round" stroke-linejoin="round" fill="none"/>
<path d="M1712.1 564.9V577.3M1705 584.5L1712.1 577.3L1719.2 584.5" stroke="#3789a3" stroke-width="5.3" stroke-linecap="round" stroke-linejoin="round" fill="none"/>
<path d="M1743 553.1V565.5M1735.9 572.7L1743 565.5L1750.1 572.7" stroke="#3789a3" stroke-width="5.3" stroke-linecap="round" stroke-linejoin="round" fill="none"/>
<text x="1621.8" y="618.5" font-size="19.4" stroke="#000" stroke-width="0.38" textLength="141.5" lengthAdjust="spacingAndGlyphs">5-methylcytidine</text>
<text x="1621.8" y="642" font-size="19.4" stroke="#000" stroke-width="0.38" textLength="74" lengthAdjust="spacingAndGlyphs">antibody</text>
<path d="M1793.1 559.5h16.2M1801.2 551.4v16.2" stroke="#000" stroke-width="4.7" fill="none"/>
<ellipse cx="1909.2" cy="526.8" rx="7.9" ry="7.6" fill="#f8694b" stroke="#3a1409" stroke-width="2"/>
<ellipse cx="1941.6" cy="516.7" rx="7.9" ry="7.6" fill="#f8694b" stroke="#3a1409" stroke-width="2"/>
<ellipse cx="1896.6" cy="555.3" rx="7.9" ry="7.6" fill="#f8694b" stroke="#3a1409" stroke-width="2"/>
<ellipse cx="1933.4" cy="550.5" rx="7.9" ry="7.6" fill="#f8694b" stroke="#3a1409" stroke-width="2"/>
<ellipse cx="1962" cy="561.9" rx="7.9" ry="7.6" fill="#f8694b" stroke="#3a1409" stroke-width="2"/>
<text x="1863" y="622.7" font-size="19.4" stroke="#000" stroke-width="0.38" textLength="140" lengthAdjust="spacingAndGlyphs">Magnetic Beads</text>
<path d="M1540 717.6H1558.6V733.5H1564L1549.3 749L1534.6 733.5H1540Z" fill="#ee1111"/>
<text x="1574.7" y="731" font-size="18.8" font-weight="bold" stroke="#000" stroke-width="0.3" textLength="194" lengthAdjust="spacingAndGlyphs">Immunoprecipitation</text>
<rect x="1407.7" y="820.9" width="73.1" height="4.5" fill="#694d8f"/>
<rect x="1394.4" y="821.6" width="12" height="3.1" fill="#e8150f"/>
<rect x="1481.8" y="821.6" width="12.4" height="3.1" fill="#e8150f"/>
<rect x="1471.1" y="847.1" width="70.7" height="4.7" fill="#f2954e"/>
<rect x="1560.7" y="821.3" width="74.1" height="4.5" fill="#694d8f"/>
<rect x="1547.9" y="822" width="11.4" height="3.1" fill="#e8150f"/>
<rect x="1636.4" y="822" width="12" height="3.1" fill="#e8150f"/>
<rect x="1629" y="835.4" width="71.1" height="4.7" fill="#f2954e"/>
<rect x="1395" y="870.4" width="125.6" height="4.5" fill="#694d8f"/>
<rect x="1382" y="871.1" width="12" height="3.1" fill="#e8150f"/>
<rect x="1522.2" y="871.1" width="12" height="3.1" fill="#e8150f"/>
<rect x="1542.2" y="875.1" width="70.7" height="4.7" fill="#3789a3"/>
<rect x="1597.3" y="893.4" width="126.2" height="4.5" fill="#694d8f"/>
<rect x="1584.3" y="894.1" width="12" height="3.1" fill="#e8150f"/>
<rect x="1724.9" y="894.1" width="12.6" height="3.1" fill="#e8150f"/>
<rect x="1394" y="918.7" width="74.1" height="4.5" fill="#694d8f"/>
<rect x="1381" y="919.4" width="12.6" height="3.1" fill="#e8150f"/>
<rect x="1469.5" y="919.4" width="11.8" height="3.1" fill="#e8150f"/>
<rect x="1453.1" y="939.6" width="71.1" height="4.7" fill="#3789a3"/>
<rect x="1509.2" y="927.6" width="71.1" height="4.7" fill="#3789a3"/>
<rect x="1576.3" y="946.4" width="71.1" height="4.7" fill="#3789a3"/>
<use href="#ab" x="1429.5" y="823.2"/>
<use href="#ab" x="1470.1" y="823.2"/>
<use href="#ab" x="1509.8" y="849.4"/>
<use href="#ab" x="1584.9" y="823.6"/>
<use href="#ab" x="1598.3" y="823.6"/>
<use href="#ab" x="1680.6" y="837.8"/>
<use href="#ab" x="1438.5" y="872.6"/>
<use href="#ab" x="1557.7" y="877.5"/>
<use href="#ab" x="1628.4" y="895.7"/>
<use href="#ab" x="1643.4" y="895.7"/>
<use href="#ab" x="1694.9" y="895.7"/>
<use href="#ab" x="1709.9" y="895.7"/>
<use href="#ab" x="1415.7" y="920.9"/>
<use href="#ab" x="1431.5" y="920.9"/>
<use href="#ab" x="1493.6" y="941.9"/>
<use href="#ab" x="1550.7" y="929.9"/>
<use href="#ab" x="1594.9" y="948.8"/>
<use href="#ab" x="1630.8" y="948.8"/>
<path d="M1540.4 975H1559V992.1H1564.4L1549.7 1007.6L1535 992.1H1540.4Z" fill="#ee1111"/>
<text x="1580.6" y="983.4" font-size="15.8" font-weight="bold" stroke="#000" stroke-width="0.3" textLength="125" lengthAdjust="spacingAndGlyphs">Quality Control 1</text>
<text x="1580.6" y="1001.7" font-size="15.8" stroke="#000" stroke-width="0.38" textLength="317.6" lengthAdjust="spacingAndGlyphs">Testing recovery of Spiked in <tspan font-style="italic">A. thaliana DNA</tspan></text>
<text x="1580.6" y="1020.3" font-size="15.8" fill="#dc0f2d" stroke="#dc0f2d" stroke-width="0.38" textLength="254.4" lengthAdjust="spacingAndGlyphs">&lt; 1% recovery of unmethylated DNA</text>
<text x="1580.6" y="1039.9" font-size="15.8" fill="#dc0f2d" stroke="#dc0f2d" stroke-width="0.38" textLength="172.6" lengthAdjust="spacingAndGlyphs">≥99% reaction specificity</text>
<path d="M1542.1 1070.4H1560.7V1086.8H1566.1L1551.4 1102.3L1536.7 1086.8H1542.1Z" fill="#ee1111"/>
<text x="1582.3" y="1084.2" font-size="15.4" font-weight="bold" stroke="#000" stroke-width="0.3" textLength="335" lengthAdjust="spacingAndGlyphs">qPCR for optimal library amplification cycles</text>
<rect x="1194.6" y="1128.9" width="105.3" height="6" fill="#694d8f"/>
<rect x="1195.8" y="1139.2" width="105.2" height="6" fill="#694d8f"/>
<rect x="1176.3" y="1129.7" width="16.8" height="4.4" fill="#e8150f"/>
<rect x="1176.9" y="1140" width="17.1" height="4.4" fill="#e8150f"/>
<rect x="1301.9" y="1129.7" width="17.2" height="4.4" fill="#e8150f"/>
<rect x="1302.5" y="1140" width="17.5" height="4.4" fill="#e8150f"/>
<rect x="1377.9" y="1129.8" width="106.4" height="6" fill="#694d8f"/>
<rect x="1378.5" y="1142.8" width="107" height="6" fill="#694d8f"/>
<rect x="1358.7" y="1130.6" width="17.1" height="4.4" fill="#e8150f"/>
<rect x="1359.9" y="1143.6" width="16.8" height="4.4" fill="#e8150f"/>
<rect x="1486.4" y="1130.6" width="17.2" height="4.4" fill="#e8150f"/>
<rect x="1487.3" y="1143.6" width="17.1" height="4.4" fill="#e8150f"/>
<rect x="1560.6" y="1129.8" width="181" height="6" fill="#694d8f"/>
<rect x="1562.1" y="1143.1" width="180.9" height="6" fill="#694d8f"/>
<rect x="1541.4" y="1130.6" width="17.2" height="4.4" fill="#e8150f"/>
<rect x="1542.6" y="1143.9" width="17.1" height="4.4" fill="#e8150f"/>
<rect x="1743.3" y="1130.6" width="17.5" height="4.4" fill="#e8150f"/>
<rect x="1744.8" y="1143.9" width="17.7" height="4.4" fill="#e8150f"/>
<rect x="1283.3" y="1165.2" width="106.4" height="6" fill="#694d8f"/>
<rect x="1284.5" y="1178.3" width="106.4" height="6" fill="#694d8f"/>
<rect x="1264.4" y="1166" width="17.1" height="4.4" fill="#e8150f"/>
<rect x="1265.5" y="1179.1" width="16.9" height="4.4" fill="#e8150f"/>
<rect x="1391.2" y="1166" width="17.2" height="4.4" fill="#e8150f"/>
<rect x="1392.4" y="1179.1" width="17.1" height="4.4" fill="#e8150f"/>
<rect x="1465.1" y="1168.8" width="180.7" height="6" fill="#694d8f"/>
<rect x="1463.6" y="1179.7" width="181.3" height="6" fill="#694d8f"/>
<rect x="1445.3" y="1169.6" width="17.5" height="4.4" fill="#e8150f"/>
<rect x="1444.4" y="1180.5" width="17.2" height="4.4" fill="#e8150f"/>
<rect x="1647.8" y="1169.6" width="17.8" height="4.4" fill="#e8150f"/>
<rect x="1647" y="1180.5" width="17.1" height="4.4" fill="#e8150f"/>
<rect x="1194.6" y="1204.9" width="105.3" height="6" fill="#694d8f"/>
<rect x="1195.8" y="1215.2" width="105.2" height="6" fill="#694d8f"/>
<rect x="1176.3" y="1205.7" width="16.8" height="4.4" fill="#e8150f"/>
<rect x="1176.9" y="1216" width="17.1" height="4.4" fill="#e8150f"/>
<rect x="1301.9" y="1205.7" width="17.2" height="4.4" fill="#e8150f"/>
<rect x="1302.5" y="1216" width="17.5" height="4.4" fill="#e8150f"/>
<rect x="1377.9" y="1205.8" width="106.4" height="6" fill="#694d8f"/>
<rect x="1378.5" y="1218.8" width="107" height="6" fill="#694d8f"/>
<rect x="1358.7" y="1206.6" width="17.1" height="4.4" fill="#e8150f"/>
<rect x="1359.9" y="1219.6" width="16.8" height="4.4" fill="#e8150f"/>
<rect x="1486.4" y="1206.6" width="17.2" height="4.4" fill="#e8150f"/>
<rect x="1487.3" y="1219.6" width="17.1" height="4.4" fill="#e8150f"/>
<rect x="1560.6" y="1205.8" width="181" height="6" fill="#694d8f"/>
<rect x="1562.1" y="1219.1" width="180.9" height="6" fill="#694d8f"/>
<rect x="1541.4" y="1206.6" width="17.2" height="4.4" fill="#e8150f"/>
<rect x="1542.6" y="1219.9" width="17.1" height="4.4" fill="#e8150f"/>
<rect x="1743.3" y="1206.6" width="17.5" height="4.4" fill="#e8150f"/>
<rect x="1744.8" y="1219.9" width="17.7" height="4.4" fill="#e8150f"/>
<rect x="1283.3" y="1241.2" width="106.4" height="6" fill="#694d8f"/>
<rect x="1284.5" y="1254.3" width="106.4" height="6" fill="#694d8f"/>
<rect x="1264.4" y="1242" width="17.1" height="4.4" fill="#e8150f"/>
<rect x="1265.5" y="1255.1" width="16.9" height="4.4" fill="#e8150f"/>
<rect x="1391.2" y="1242" width="17.2" height="4.4" fill="#e8150f"/>
<rect x="1392.4" y="1255.1" width="17.1" height="4.4" fill="#e8150f"/>
<rect x="1465.1" y="1244.8" width="180.7" height="6" fill="#694d8f"/>
<rect x="1463.6" y="1255.7" width="181.3" height="6" fill="#694d8f"/>
<rect x="1445.3" y="1245.6" width="17.5" height="4.4" fill="#e8150f"/>
<rect x="1444.4" y="1256.5" width="17.2" height="4.4" fill="#e8150f"/>
<rect x="1647.8" y="1245.6" width="17.8" height="4.4" fill="#e8150f"/>
<rect x="1647" y="1256.5" width="17.1" height="4.4" fill="#e8150f"/>
<text x="1829.4" y="1195.6" font-size="22.8" font-weight="bold" stroke="#000" stroke-width="0.3" textLength="78" lengthAdjust="spacingAndGlyphs">Library</text>
<text x="1829.4" y="1223.7" font-size="22.8" font-weight="bold" stroke="#000" stroke-width="0.3" textLength="148" lengthAdjust="spacingAndGlyphs">Amplification</text>
<path d="M1539.3 1300.9H1560.7V1316.4H1565L1550 1333.9L1535 1316.4H1539.3Z" fill="#ee1111"/>
<text x="1586.5" y="1314.6" font-size="16" stroke="#000" stroke-width="0.38" textLength="258.8" lengthAdjust="spacingAndGlyphs">Size selection and BioAnalyzer Trace</text>
<text x="1551.7" y="1383.9" font-size="24.2" font-weight="bold" text-anchor="middle" stroke="#000" stroke-width="0.3" textLength="132" lengthAdjust="spacingAndGlyphs">Sequencing</text>
</g>
</svg></body></html>
